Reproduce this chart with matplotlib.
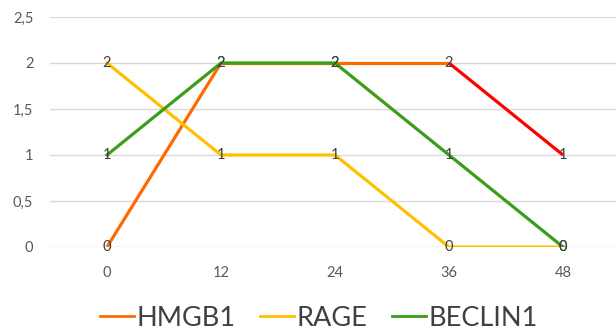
import matplotlib
matplotlib.use("Agg")
import matplotlib.pyplot as plt
import numpy as np

hours = ["0", "12", "24", "36", "48"]
hmgb1 = [0, 2, 2, 2, 1]
rage = [2, 1, 1, 0, 0]
beclin1 = [1, 2, 2, 1, 0]
# segment colours for HMGB1 (last segment formatted red in the original)
hmgb1_seg_colors = ["#FF6A00", "#FF6A00", "#FF6A00", "#FF0000"]
yticks = [0, 0.5, 1, 1.5, 2, 2.5]
ytick_labels = ["0", "0,5", "1", "1,5", "2", "2,5"]

plt.rcParams['font.family'] = ['Lato', 'DejaVu Sans']

fig = plt.figure(figsize=(6.16, 3.34), dpi=100)
ax = fig.add_axes([50/616, 1 - 247/334, 570/616, 230/334])

x = np.arange(len(hours))
lw = 2.3

for i in range(len(x) - 1):
    ax.plot(x[i:i+2], hmgb1[i:i+2], color=hmgb1_seg_colors[i], lw=lw,
            solid_capstyle='butt', zorder=3)
ax.plot(x, rage, color="#FFC000", lw=lw, zorder=3)
ax.plot(x, beclin1, color="#3A9E1A", lw=lw, zorder=4)

for series in (hmgb1, rage, beclin1):
    for xi, v in zip(x, series):
        ax.text(xi, v, str(v), ha='center', va='center', fontsize=10.5,
                color="#404040", zorder=5)

ax.set_xlim(-0.5, 4.5)
ax.set_ylim(0, 2.5)
ax.set_yticks(yticks)
ax.set_yticklabels(ytick_labels)
ax.set_xticks(x)
ax.set_xticklabels(hours)
ax.tick_params(length=0, labelsize=10.5, labelcolor="#595959")
ax.tick_params(axis='y', pad=12)
ax.tick_params(axis='x', pad=14)
ax.grid(axis='y', color="#D9D9D9", lw=1)
ax.set_axisbelow(True)
for s in ax.spines.values():
    s.set_visible(False)

# legend handles
h1, = ax.plot([], [], color="#FF6A00", lw=2, label="HMGB1")
h2, = ax.plot([], [], color="#FFC000", lw=2, label="RAGE")
h3, = ax.plot([], [], color="#3A9E1A", lw=2, label="BECLIN1")
fig.legend(handles=[h1, h2, h3], loc='center', bbox_to_anchor=(319/616, 1 - 318/334),
           ncol=3, frameon=False, fontsize=19.5, handlelength=1.25, handletextpad=0.1,
           columnspacing=0.9, labelcolor="#404040")

fig.savefig("out.png", dpi=100)
